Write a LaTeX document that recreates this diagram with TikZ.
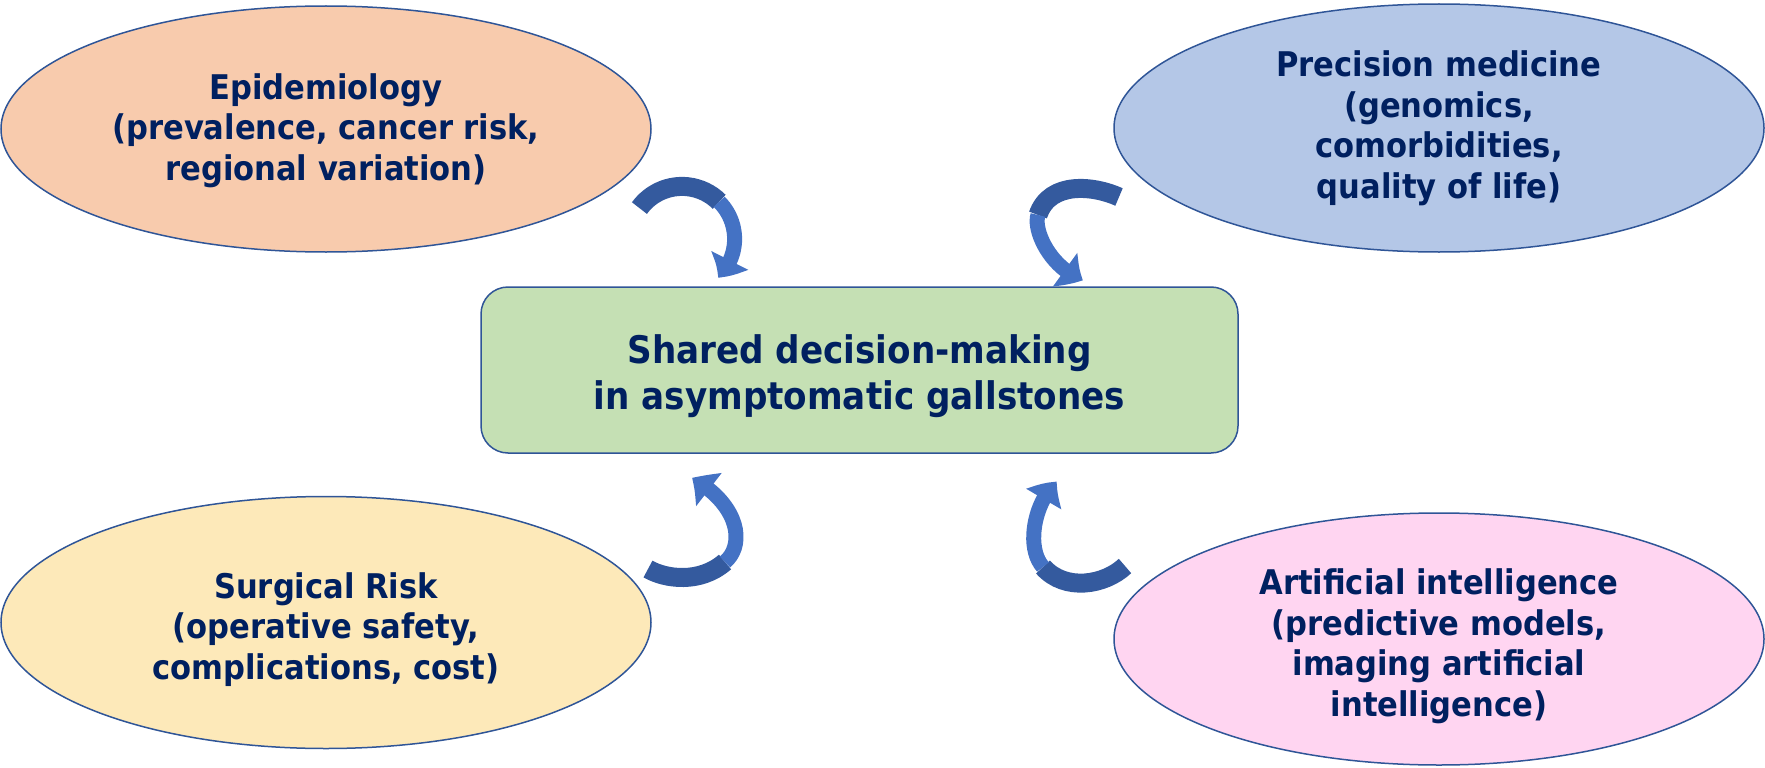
\documentclass[tikz,border=0pt]{standalone}
\usepackage{fontspec}
\setmainfont{DejaVu Sans Condensed}[BoldFont={DejaVu Sans Condensed Bold}]
\usetikzlibrary{shapes.geometric,arrows.meta,bending,calc}
\definecolor{navy}{HTML}{002060}
\definecolor{edgeblue}{HTML}{2F5597}
\definecolor{epifill}{HTML}{F8CBAD}
\definecolor{precfill}{HTML}{B4C7E7}
\definecolor{surgfill}{HTML}{FDE9B9}
\definecolor{aifill}{HTML}{FFD5F1}
\definecolor{centerfill}{HTML}{C5E0B4}
\definecolor{arrowdark}{HTML}{345A9E}
\definecolor{arrowlight}{HTML}{4472C4}
\begin{document}
\begin{tikzpicture}[x=1pt,y=-1pt,
  bubble/.style={ellipse, draw=edgeblue, line width=1.5pt, minimum width=650pt,
    inner sep=0pt},
  bubbletext/.style={inner sep=0pt, text=navy, align=center,
    font=\bfseries\fontsize{34}{40.5}\selectfont},
  centerbox/.style={draw=edgeblue, fill=centerfill, line width=1.5pt,
    rounded corners=27pt, minimum width=757pt, minimum height=166pt},
  centertext/.style={inner sep=0pt, text=navy, align=center,
    font=\bfseries\fontsize{38}{45.5}\selectfont},
  backband/.style={line width=19pt, draw=arrowdark},
  frontband/.style={line width=15pt, draw=arrowlight,
    -{Triangle[length=21pt,width=40pt,bend]}}]
\useasboundingbox (0,0) rectangle (1765,768);

\node[bubble, fill=epifill, minimum height=246pt] (epi) at (326,129) {};
\node[bubbletext] (epit) at ($(epi.center)+(0,1.5)$)
  {Epidemiology\\(prevalence, cancer risk,\\regional variation)};
\node[bubble, fill=precfill, minimum height=248pt] (prec) at (1439,128) {};
\node[bubbletext] (prect) at ($(prec.center)+(0,0.5)$)
  {Precision medicine\\(genomics,\\comorbidities,\\quality of life)};
\node[bubble, fill=surgfill, minimum height=252pt] (surg) at (326,622.5) {};
\node[bubbletext] (surgt) at ($(surg.center)+(0,7)$)
  {Surgical Risk\\(operative safety,\\complications, cost)};
\node[bubble, fill=aifill, minimum height=252pt] (ai) at (1439,639) {};
\node[bubbletext] (ait) at ($(ai.center)+(0,7)$)
  {Artificial intelligence\\(predictive models,\\imaging artificial\\intelligence)};
\node[centerbox] (sdm) at (859.5,370) {};
\node[centertext] (sdmt) at ($(sdm.center)+(0,6)$)
  {Shared decision-making\\in asymptomatic gallstones};

% curved arrow near Epidemiology
\coordinate (c1) at (682,239);
\draw[backband] ($(c1)+(216:52.6)$) arc[start angle=216, end angle=315, radius=52.6];
\draw[frontband] ($(c1)+(315:52.6)$) arc[start angle=315, end angle=407, radius=52.6];

% curved arrow near Precision medicine
\coordinate (a2s) at (1119,197);
\coordinate (a2m) at (1038,215);
\coordinate (a2e) at (1083,280);
\draw[backband] (a2s) .. controls (1095,186) and (1050,180) .. (a2m);
\draw[frontband] (a2m) .. controls (1033,230) and (1050,268) .. (a2e);

% curved arrow near Surgical Risk
\coordinate (a3s) at (648,569);
\coordinate (a3m) at (725,562);
\coordinate (a3e) at (692,478);
\draw[backband] (a3s) .. controls (665,579) and (700,584) .. (a3m);
\draw[frontband] (a3m) .. controls (745,545) and (740,505) .. (a3e);

% curved arrow near Artificial intelligence
\coordinate (a4s) at (1125,566);
\coordinate (a4m) at (1043,567);
\coordinate (a4e) at (1057,482);
\draw[backband] (a4s) .. controls (1105,585) and (1065,592) .. (a4m);
\draw[frontband] (a4m) .. controls (1025,547) and (1035,500) .. (a4e);
\end{tikzpicture}
\end{document}
